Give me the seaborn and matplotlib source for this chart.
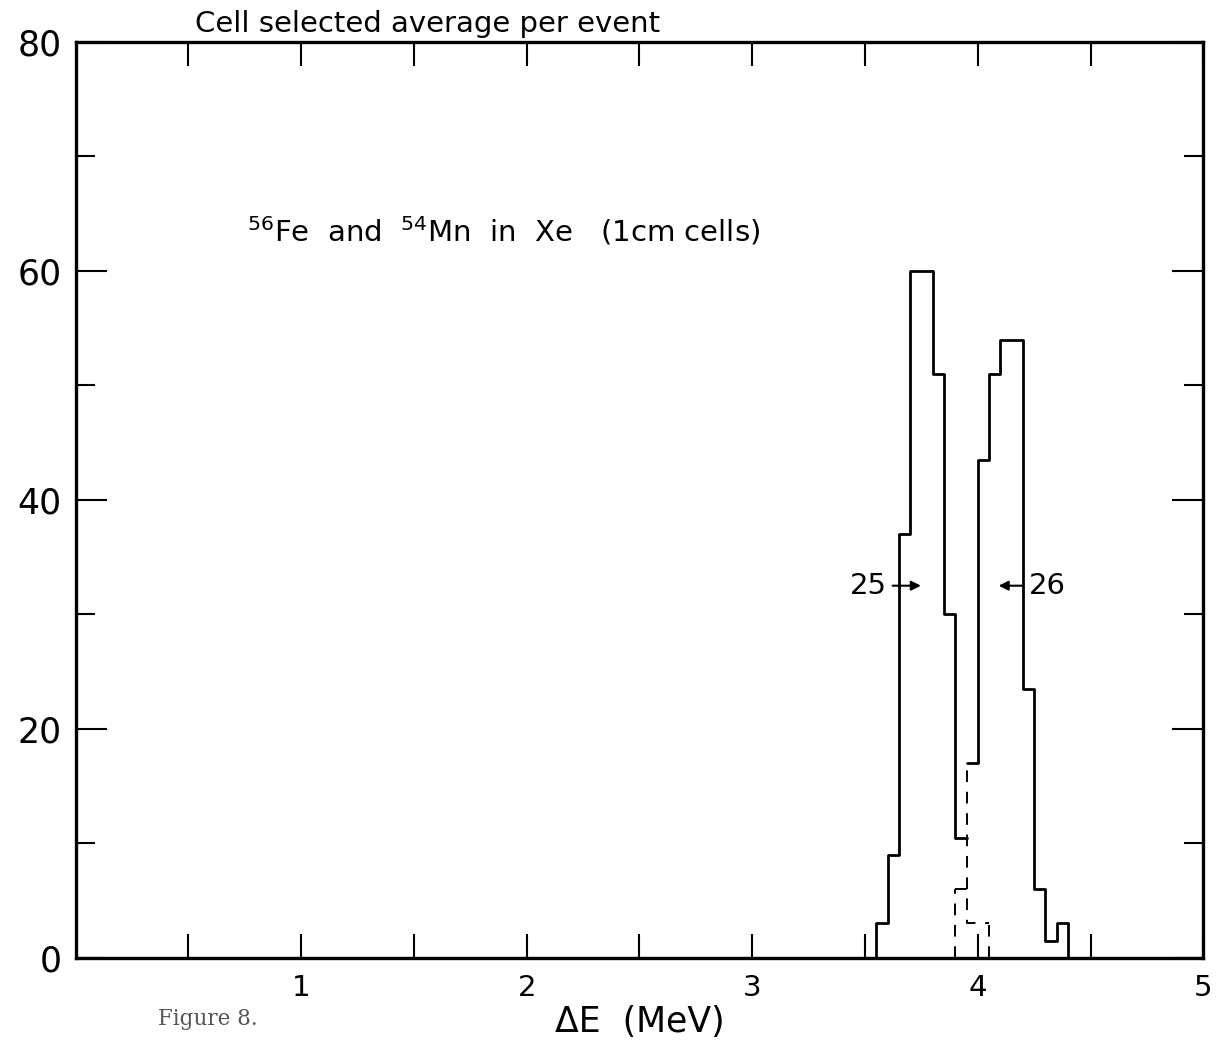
import numpy as np
import pandas as pd
import matplotlib
matplotlib.use("Agg")
import matplotlib.pyplot as plt
import seaborn as sns

# ---- data ----
bin_edges = [3.55, 3.60, 3.65, 3.70, 3.75, 3.80, 3.85, 3.90, 3.95, 4.00,
             4.05, 4.10, 4.15, 4.20, 4.25, 4.30, 4.35, 4.40]
total_counts = [3, 9, 37, 60, 60, 51, 30, 10.5, 17, 43.5, 51, 54, 54, 23.5, 6, 1.5, 3]

overlap_edges = [3.90, 3.95, 4.00, 4.05]
overlap_counts = [6, 3, 3]

x_ticks = [1, 2, 3, 4, 5]
y_ticks = [0, 20, 40, 60, 80]

title_text = "Cell selected average per event"
note_text = r"$^{56}$Fe  and  $^{54}$Mn  in  Xe   (1cm cells)"
x_label = "ΔE  (MeV)"
peak_labels = ["25", "26"]

# ---- figure ----
sns.set_style("ticks")
plt.rcParams["font.family"] = ["DejaVu Sans"]
plt.rcParams["text.color"] = "black"
plt.rcParams["axes.labelcolor"] = "black"
plt.rcParams["xtick.color"] = "black"
plt.rcParams["ytick.color"] = "black"

fig = plt.figure(figsize=(12.18, 10.49), dpi=100)
ax = fig.add_axes([0.062, 0.087, 0.926, 0.873])

DASH = (0, (6, 5))

# split the solid outline at the Mn/Fe boundary (drawn dashed there)
split_idx = bin_edges.index(overlap_edges[1])
parts = [(bin_edges[:split_idx + 1], total_counts[:split_idx]),
         (bin_edges[split_idx:], total_counts[split_idx:])]
for edges, counts in parts:
    e = np.array(edges)
    c = (e[:-1] + e[1:]) / 2
    d = pd.DataFrame({"dE": c, "n": counts})
    sns.histplot(data=d, x="dE", weights="n", bins=edges, element="step",
                 fill=False, color="black", linewidth=2.0, ax=ax)
# closing verticals down to the baseline
ax.vlines([bin_edges[0], bin_edges[-1]], 0, [total_counts[0], total_counts[-1]],
          colors="black", linewidth=2.0)

ov_centers = (np.array(overlap_edges[:-1]) + np.array(overlap_edges[1:])) / 2
df2 = pd.DataFrame({"dE": ov_centers, "n": overlap_counts})
sns.histplot(data=df2, x="dE", weights="n", bins=overlap_edges, element="step",
             fill=False, color="black", linewidth=1.4, linestyle=DASH, ax=ax)
ax.vlines([overlap_edges[0], overlap_edges[-1]], 0,
          [overlap_counts[0], overlap_counts[-1]],
          colors="black", linewidth=1.4, linestyles=[DASH])

# dashed divider at the Fe/Mn split
ax.vlines(overlap_edges[1], overlap_counts[0], total_counts[split_idx],
          colors="black", linewidth=1.4, linestyles=[DASH])

ax.set_xlim(0, 5)
ax.set_ylim(0, 80)
ax.set_xticks(x_ticks)
ax.set_xticklabels([str(t) for t in x_ticks], fontsize=21)
ax.set_yticks(y_ticks)
ax.set_yticklabels([str(t) for t in y_ticks], fontsize=25)
ax.set_xticks(np.arange(0.5, 5, 0.5), minor=True)
ax.set_yticks(np.arange(10, 80, 20), minor=True)
ax.tick_params(which="both", direction="in", top=True, right=True,
               width=1.5, color="black")
ax.tick_params(axis="x", which="both", length=17)
ax.tick_params(axis="y", which="major", pad=10, length=22)
ax.tick_params(axis="y", which="minor", length=14)
ax.tick_params(axis="x", which="major", pad=12)
for s in ax.spines.values():
    s.set_linewidth(2.4)
    s.set_color("black")
    s.set_visible(True)

ax.set_xlabel(x_label, fontsize=25, labelpad=2)
ax.set_ylabel("")

ax.text(0.53, 80.9, title_text, fontsize=21, ha="left", va="baseline")
ax.text(0.76, 63.5, note_text, fontsize=21, ha="left", va="center")

# peak markers
ax.annotate("", xy=(3.76, 32.5), xytext=(3.61, 32.5),
            arrowprops=dict(arrowstyle="-|>", color="black", lw=1.5, mutation_scale=14))
ax.text(3.595, 32.5, peak_labels[0], fontsize=21, ha="right", va="center")
ax.annotate("", xy=(4.08, 32.5), xytext=(4.21, 32.5),
            arrowprops=dict(arrowstyle="-|>", color="black", lw=1.5, mutation_scale=14))
ax.text(4.225, 32.5, peak_labels[1], fontsize=21, ha="left", va="center")

fig.text(0.13, 0.018, "Figure 8.", fontsize=15.5, family="DejaVu Serif",
         color="#555555", ha="left", va="bottom")

fig.savefig("out.png", dpi=100)
